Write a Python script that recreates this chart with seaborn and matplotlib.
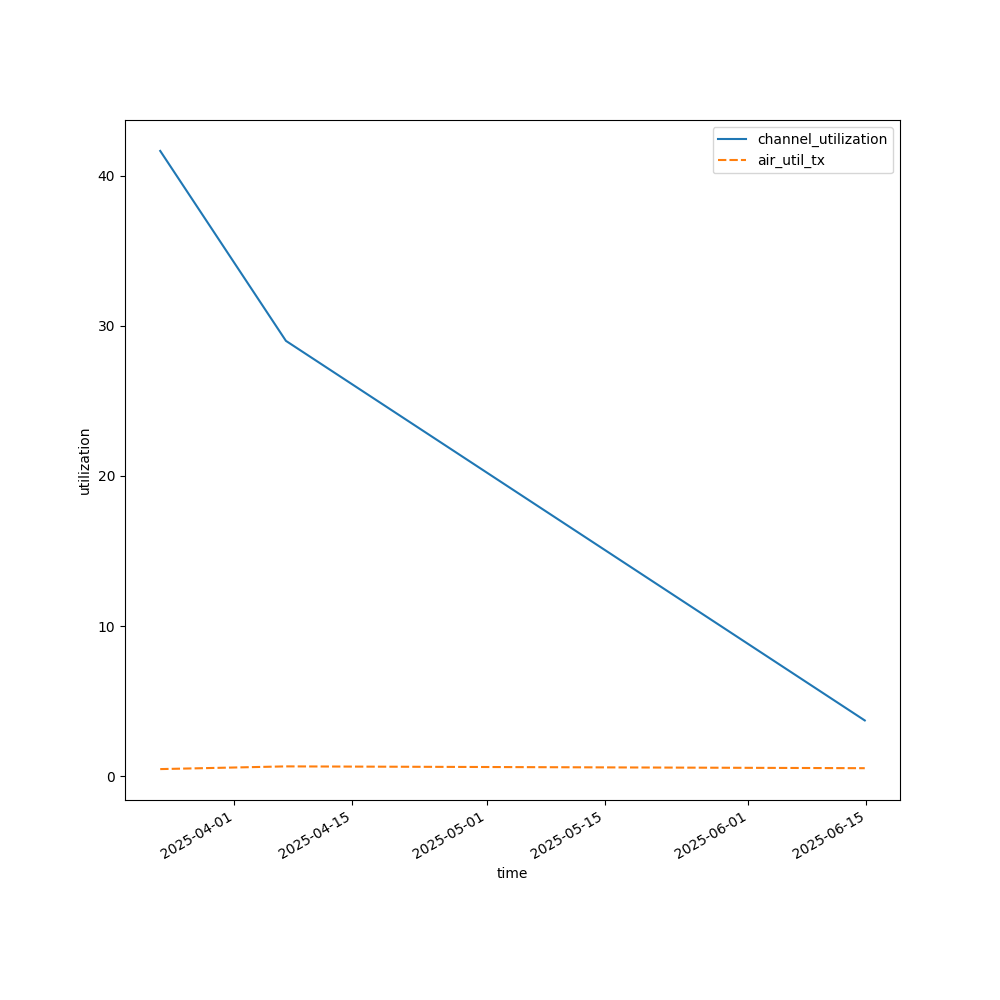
import pandas as pd
import matplotlib
matplotlib.use("Agg")
import matplotlib.pyplot as plt
import seaborn as sns

times = pd.to_datetime(["2025-03-23 05:00", "2025-04-07 03:00", "2025-06-14 19:40"])
channel_utilization = [41.65, 29.0, 3.72]
air_util_tx = [0.48, 0.66, 0.54]

df = pd.DataFrame({
    "channel_utilization": channel_utilization,
    "air_util_tx": air_util_tx,
}, index=pd.Index(times, name="time"))

fig, ax = plt.subplots(figsize=(10, 10), dpi=100)
sns.lineplot(data=df, ax=ax)
ax.set_xlabel("time")
ax.set_ylabel("utilization")
fig.autofmt_xdate()

plt.savefig("out.png")
